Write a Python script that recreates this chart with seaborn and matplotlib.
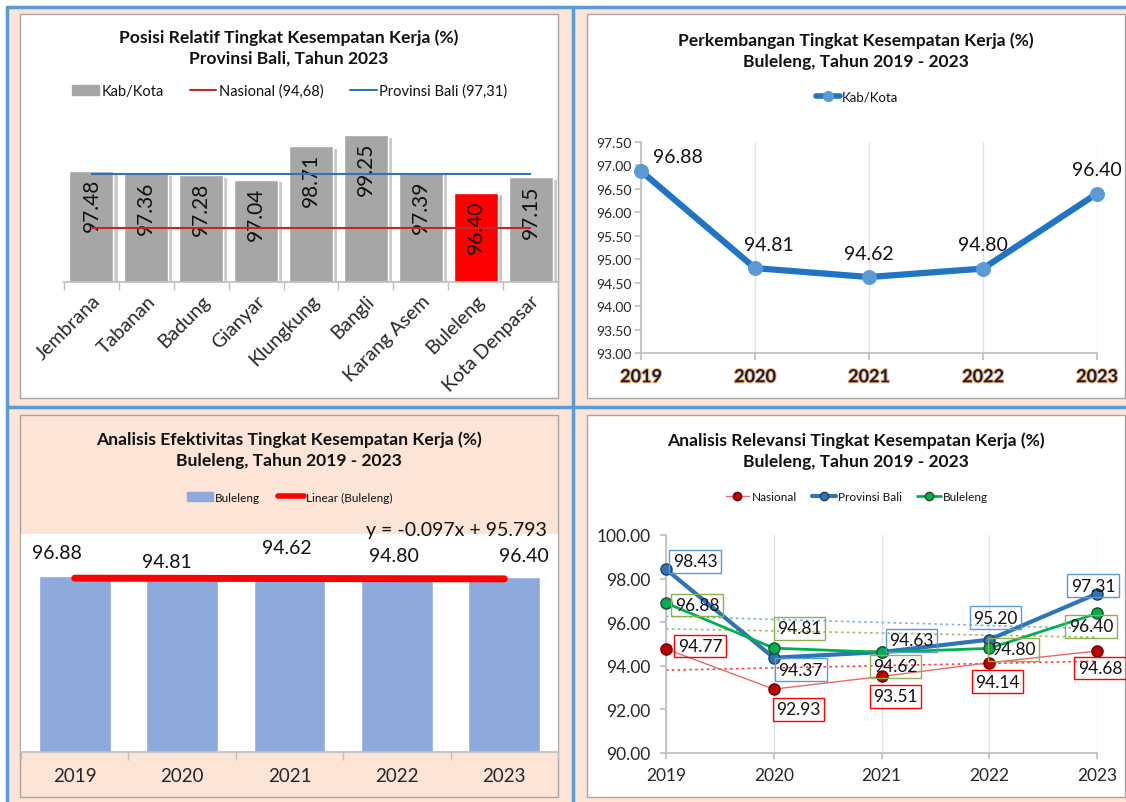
import numpy as np
import matplotlib.pyplot as plt
import matplotlib.patches as mpatches
import matplotlib.patheffects as pe
from matplotlib.lines import Line2D
from matplotlib.ticker import FormatStrFormatter
import seaborn as sns

# Posisi relatif 2023
kabkota = ['Jembrana', 'Tabanan', 'Badung', 'Gianyar', 'Klungkung',
           'Bangli', 'Karang Asem', 'Buleleng', 'Kota Denpasar']
tkk_2023 = [97.48, 97.36, 97.28, 97.04, 98.71, 99.25, 97.39, 96.40, 97.15]
nasional_2023 = 94.68
bali_2023 = 97.31

# Series 2019 - 2023
years = ['2019', '2020', '2021', '2022', '2023']
buleleng = [96.88, 94.81, 94.62, 94.80, 96.40]
nasional = [94.77, 92.93, 93.51, 94.14, 94.68]
prov_bali = [98.43, 94.37, 94.63, 95.20, 97.31]

sns.set_theme(style='white')
plt.rcParams['font.family'] = ['Lato', 'DejaVu Sans']
plt.rcParams['text.color'] = '#111111'

W, H = 1126, 803
fig = plt.figure(figsize=(W / 100, H / 100), dpi=100)

PEACH = '#FCE4D6'
BLUE_BORDER = '#5B9BD5'
GRAY = '#A6A6A6'


def box(x0, y0, x1, y1):
    return [x0 / W, 1 - y1 / H, (x1 - x0) / W, (y1 - y0) / H]


def rect_px(x0, y0, x1, y1, **kw):
    fig.add_artist(mpatches.Rectangle((x0 / W, 1 - y1 / H), (x1 - x0) / W, (y1 - y0) / H,
                                      transform=fig.transFigure, **kw))


def line_px(xs, ys, **kw):
    fig.add_artist(Line2D([x / W for x in xs], [1 - y / H for y in ys],
                          transform=fig.transFigure, **kw))


def fx(x):
    return x / W


def fy(y):
    return 1 - y / H


# page background and panel frames
rect_px(7, 8, W, H, fc=PEACH, ec='none', zorder=-5)
line_px([7, 7], [8, H], color=BLUE_BORDER, lw=2.5, zorder=-4)
line_px([7, W], [8, 8], color=BLUE_BORDER, lw=2.5, zorder=-4)
line_px([573, 573], [8, H], color=BLUE_BORDER, lw=2.5, zorder=-4)
line_px([7, W], [408, 408], color=BLUE_BORDER, lw=2.5, zorder=-4)

rect_px(20, 15, 558, 399, fc='white', ec=GRAY, lw=1, zorder=-3)
rect_px(587, 15, 1125, 399, fc='white', ec=GRAY, lw=1, zorder=-3)
rect_px(20, 416, 558, 798, fc=PEACH, ec=GRAY, lw=1, zorder=-3)
rect_px(587, 416, 1125, 798, fc='white', ec=GRAY, lw=1, zorder=-3)

title_kw = dict(ha='center', va='center', fontsize=12.6, fontweight='bold', linespacing=1.4)

# ---------------- panel 1 ----------------
ax1 = fig.add_axes(box(64, 110, 558, 283))
ax1.set_facecolor('none')
bar_colors = ['#FF0000' if k == 'Buleleng' else '#A6A6A6' for k in kabkota]
sns.barplot(x=kabkota, y=tkk_2023, hue=kabkota, palette=bar_colors, legend=False,
            width=0.8, saturation=1, ax=ax1)
bars1 = sorted([b for c in ax1.containers for b in c], key=lambda b: b.get_x())
for b, v in zip(bars1, tkk_2023):
    b.set_path_effects([pe.SimplePatchShadow(offset=(3, -2), alpha=0.25), pe.Normal()])
    ax1.annotate(f'{v:.2f}', (b.get_x() + b.get_width() / 2, b.get_height()),
                 xytext=(0, -7), textcoords='offset pixels', rotation=90,
                 ha='center', va='top', fontsize=15)
n1 = len(kabkota)
ax1.hlines(nasional_2023, 0, n1 - 1, color='#C0282D', lw=1.5, zorder=3)
ax1.hlines(bali_2023, 0, n1 - 1, color='#2E75B6', lw=1.5, zorder=3)
ax1.set_ylim(92, 100.52)
ax1.set_xlim(-0.5, n1 - 0.5)
ax1.set_yticks([])
ax1.set_ylabel('')
for s in ['left', 'right', 'top']:
    ax1.spines[s].set_visible(False)
ax1.spines['bottom'].set_color('#BFBFBF')
ax1.set_xticks(np.arange(-0.5, n1, 1), minor=True)
ax1.tick_params(axis='x', which='minor', bottom=True, length=6, color='#BFBFBF')
ax1.tick_params(axis='x', which='major', length=0, labelsize=14, pad=7)
for lbl in ax1.get_xticklabels():
    lbl.set_rotation(45)
    lbl.set_ha('right')
    lbl.set_rotation_mode('anchor')
fig.text(fx(289), fy(48), 'Posisi Relatif Tingkat Kesempatan Kerja (%)\nProvinsi Bali, Tahun 2023',
         **title_kw)
h1 = [mpatches.Patch(color='#A6A6A6', label='Kab/Kota'),
      Line2D([0], [0], color='#C0282D', lw=1.5,
             label=f'Nasional ({nasional_2023:.2f})'.replace('.', ',')),
      Line2D([0], [0], color='#2E75B6', lw=1.5,
             label=f'Provinsi Bali ({bali_2023:.2f})'.replace('.', ','))]
ax1.legend(handles=h1, loc='center', bbox_to_anchor=(fx(290), fy(92)),
           bbox_transform=fig.transFigure, ncol=3, frameon=False, fontsize=10.5,
           handlelength=1.8, handletextpad=0.2, columnspacing=1.8)

# ---------------- panel 2 ----------------
x_idx = np.arange(len(years))
ax2 = fig.add_axes(box(641, 143, 1097, 354))
ax2.set_facecolor('none')
sns.lineplot(x=x_idx, y=buleleng, ax=ax2, color='#1F75C4', lw=4.5, marker='o',
             markersize=10, markerfacecolor='#5B9BD5', markeredgecolor='#5B9BD5',
             clip_on=False, zorder=4)
tr_offsets = [(37, 15), (14, 24), (0, 24), (0, 24), (0, 24)]
for i, v in enumerate(buleleng):
    ax2.annotate(f'{v:.2f}', (x_idx[i], v), xytext=tr_offsets[i], textcoords='offset pixels',
                 ha='center', va='center', fontsize=14)
ax2.set_xlim(0, 4)
ax2.set_ylim(93, 97.5)
ax2.set_yticks(np.arange(93, 97.51, 0.5))
ax2.yaxis.set_major_formatter(FormatStrFormatter('%.2f'))
ax2.set_xticks(x_idx, years)
ax2.grid(axis='x', color='#DCE3EE', lw=1)
for s in ['right', 'top']:
    ax2.spines[s].set_visible(False)
for s in ['left', 'bottom']:
    ax2.spines[s].set_color('#BFBFBF')
ax2.tick_params(axis='y', left=True, length=4, color='#BFBFBF', labelsize=10, pad=3)
ax2.tick_params(axis='x', bottom=True, length=5, color='#BFBFBF', labelsize=13, pad=6)
for lbl in ax2.get_xticklabels():
    lbl.set_fontweight('bold')
    lbl.set_color('#1B1B3A')
    lbl.set_path_effects([pe.withStroke(linewidth=1.6, foreground='#F2B97A')])
fig.text(fx(856), fy(51), 'Perkembangan Tingkat Kesempatan Kerja (%)\nBuleleng, Tahun 2019 - 2023',
         **title_kw)
ax2.legend(handles=[Line2D([0], [0], color='#1F75C4', lw=4, marker='o', markersize=7,
                           markerfacecolor='#5B9BD5', markeredgecolor='#5B9BD5', label='Kab/Kota')],
           loc='center', bbox_to_anchor=(fx(857), fy(98)), bbox_transform=fig.transFigure,
           frameon=False, fontsize=9.5, handlelength=1.8, handletextpad=0.1)

# ---------------- panel 3 ----------------
ax3 = fig.add_axes(box(21, 535, 558, 753))
ax3.set_facecolor('white')
sns.barplot(x=years, y=buleleng, color='#8EA9DB', saturation=1, width=0.67, ax=ax3)
sns.regplot(x=x_idx, y=buleleng, scatter=False, ci=None, color='#FF0000', truncate=True,
            line_kws=dict(lw=5, solid_capstyle='round', zorder=4), ax=ax3)
slope, intercept = np.polyfit(x_idx + 1, buleleng, 1)
bl_offsets = [(-18, 24), (-15, 18), (-3, 33), (-3, 24), (20, 21)]
bars3 = sorted([b for c in ax3.containers for b in c], key=lambda b: b.get_x())
for b, v, off in zip(bars3, buleleng, bl_offsets):
    ax3.annotate(f'{v:.2f}', (b.get_x() + b.get_width() / 2, b.get_height()), xytext=off,
                 textcoords='offset pixels', ha='center', va='center', fontsize=14)
ax3.set_xlim(-0.5, 4.5)
ax3.set_ylim(0, 120)
ax3.set_yticks([])
ax3.set_ylabel('')
for s in ['left', 'right', 'top']:
    ax3.spines[s].set_visible(False)
ax3.spines['bottom'].set_color('#BFBFBF')
ax3.set_xticks(np.arange(-0.5, 5, 1), minor=True)
ax3.tick_params(axis='x', which='minor', bottom=True, length=6, color='#BFBFBF')
ax3.tick_params(axis='x', which='major', length=0, labelsize=13.5, pad=11)
fig.text(fx(456), fy(531), f'y = {slope:.3f}x + {intercept:.3f}', ha='center', va='center',
         fontsize=14)
fig.text(fx(289), fy(450), 'Analisis Efektivitas Tingkat Kesempatan Kerja (%)\nBuleleng, Tahun 2019 - 2023',
         **title_kw)
ax3.legend(handles=[mpatches.Patch(color='#8EA9DB', label='Buleleng'),
                    Line2D([0], [0], color='#FF0000', lw=4, solid_capstyle='round',
                           label='Linear (Buleleng)')],
           loc='center', bbox_to_anchor=(fx(290), fy(498)), bbox_transform=fig.transFigure,
           ncol=2, frameon=False, fontsize=8.5, handlelength=2.2, handletextpad=0.2,
           columnspacing=1.5)

# ---------------- panel 4 ----------------
ax4 = fig.add_axes(box(666, 536, 1097, 754))
ax4.set_facecolor('none')
series = [
    ('Nasional', nasional, '#E8696B', 1.0, '#C00000', '#6B0000', '#FF0000', '#FF3B3B',
     [(34, 3), (25, -20), (14, -20), (8, -19), (3, -17)]),
    ('Provinsi Bali', prov_bali, '#2E75B6', 3.0, '#2E75B6', '#1F3F66', '#5B9BD5', '#7FAFDD',
     [(29, 8), (27, -12), (30, 12), (6, 22), (-4, 8)]),
    ('Buleleng', buleleng, '#00B050', 2.0, '#00B050', '#1E4D2B', '#8FB04F', '#9BBB59',
     [(31, -2), (26, 20), (14, -14), (24, -1), (-6, -13)]),
]
for name, vals, lc, lw, mfc, mec, box_c, trend_c, offs in series:
    sns.regplot(x=x_idx, y=vals, scatter=False, ci=None, color=trend_c, truncate=True,
                line_kws=dict(ls=(0, (1.5, 2)), lw=1.2, zorder=2), ax=ax4)
handles4 = []
for name, vals, lc, lw, mfc, mec, box_c, trend_c, offs in series:
    sns.lineplot(x=x_idx, y=vals, ax=ax4, color=lc, lw=lw, marker='o', markersize=8,
                 markerfacecolor=mfc, markeredgecolor=mec, markeredgewidth=1,
                 clip_on=False, zorder=4)
    for i, v in enumerate(vals):
        ax4.annotate(f'{v:.2f}', (x_idx[i], v), xytext=offs[i], textcoords='offset pixels',
                     ha='center', va='center', fontsize=12.5, zorder=6,
                     bbox=dict(boxstyle='square,pad=0.2', fc='none', ec=box_c, lw=1))
    handles4.append(Line2D([0], [0], color=lc, lw=lw, marker='o', markersize=6,
                           markerfacecolor=mfc, markeredgecolor=mec, label=name))
ax4.set_xlim(0, 4)
ax4.set_ylim(90, 100)
ax4.set_yticks(np.arange(90, 100.1, 2))
ax4.yaxis.set_major_formatter(FormatStrFormatter('%.2f'))
ax4.set_xticks(x_idx, years)
ax4.grid(axis='x', color='#DCE3EE', lw=1)
for s in ['right', 'top']:
    ax4.spines[s].set_visible(False)
for s in ['left', 'bottom']:
    ax4.spines[s].set_color('#BFBFBF')
ax4.tick_params(axis='y', left=True, length=4, color='#BFBFBF', labelsize=12.5, pad=7)
ax4.tick_params(axis='x', bottom=True, length=4, color='#BFBFBF', labelsize=12.5, pad=6)
fig.text(fx(856), fy(451), 'Analisis Relevansi Tingkat Kesempatan Kerja (%)\nBuleleng, Tahun 2019 - 2023',
         **title_kw)
ax4.legend(handles=handles4, loc='center', bbox_to_anchor=(fx(857), fy(498)),
           bbox_transform=fig.transFigure, ncol=3, frameon=False, fontsize=8.5,
           handlelength=2.0, handletextpad=0.2, columnspacing=1.3)

fig.savefig('out.png', dpi=100)
